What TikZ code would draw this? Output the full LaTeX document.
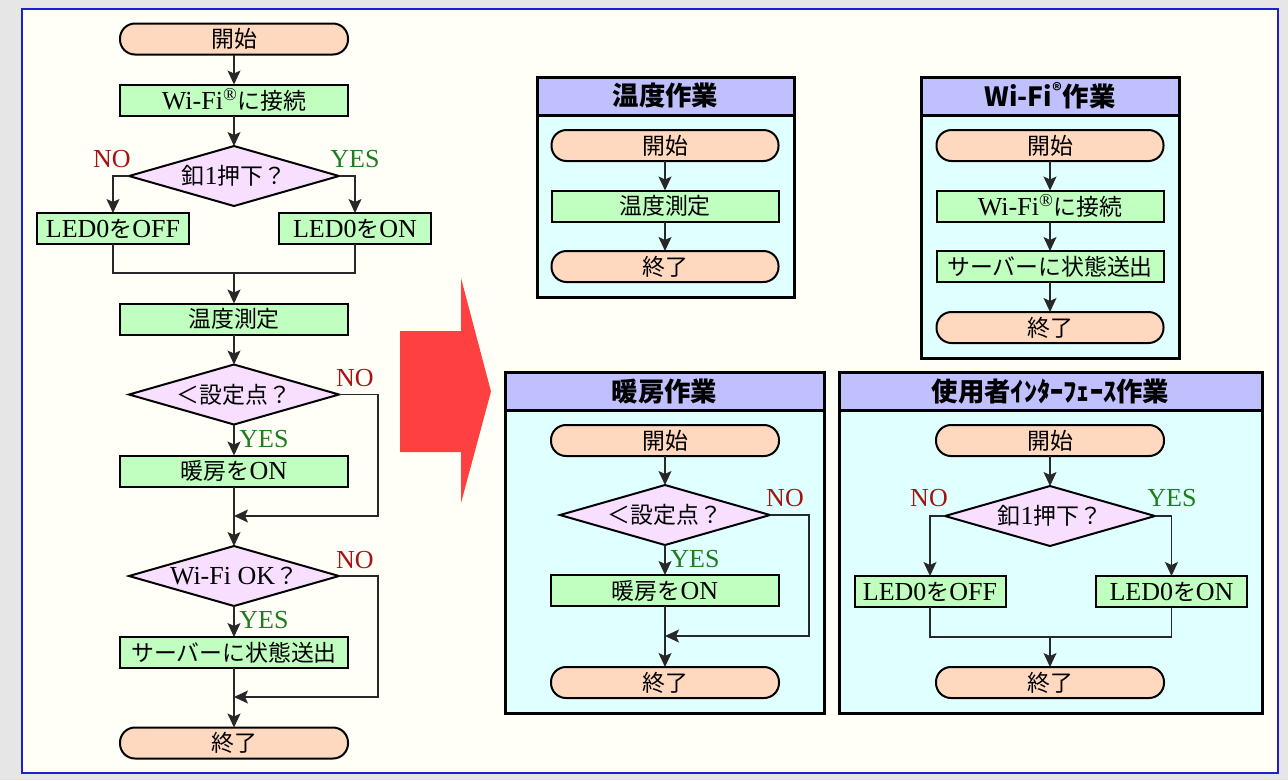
\documentclass[tikz,border=0pt]{standalone}
\usepackage{fontspec}
\setmainfont{Liberation Serif}
\newfontfamily\jp{Noto Sans CJK JP}[Scale=0.88]
\usetikzlibrary{arrows.meta,shapes.geometric}
\definecolor{bgout}{RGB}{230,230,230}
\definecolor{ivory}{RGB}{255,255,248}
\definecolor{frameblue}{RGB}{30,30,210}
\definecolor{termc}{RGB}{255,216,192}
\definecolor{procc}{RGB}{192,255,192}
\definecolor{decc}{RGB}{248,222,255}
\definecolor{headc}{RGB}{192,192,255}
\definecolor{panelc}{RGB}{224,255,255}
\definecolor{linec}{RGB}{40,40,40}
\definecolor{noc}{RGB}{165,20,20}
\definecolor{yesc}{RGB}{30,125,30}
\definecolor{arrowred}{RGB}{255,64,64}
\newcommand\Lat[1]{{\rmfamily #1}}
\begin{document}
\begin{tikzpicture}[x=1pt,y=-1pt,
 every node/.style={inner sep=0pt, outer sep=0pt, font=\jp\fontsize{26}{26}\selectfont},
 term/.style={draw, line width=2pt, fill=termc, rounded corners=15pt, minimum width=228pt, minimum height=31pt},
 proc/.style={draw, line width=2pt, fill=procc, minimum width=228pt, minimum height=31pt},
 dec/.style={diamond, draw, line width=2pt, fill=decc, minimum width=210pt, minimum height=60pt},
 arr/.style={draw=linec, line width=1.4pt, -{Stealth[length=14pt,width=13pt,inset=3pt]}},
 ln/.style={draw=linec, line width=1.4pt},
 nolab/.style={text=noc, font=\rmfamily\fontsize{26}{26}\selectfont},
 yeslab/.style={text=yesc, font=\rmfamily\fontsize{26}{26}\selectfont},
 panel/.style={draw, line width=3pt, fill=panelc},
 phead/.style={draw, line width=3pt, fill=headc, font=\jp\bfseries\fontsize{30}{30}\selectfont}
]
\useasboundingbox (0,0) rectangle (1288,780);
\fill[bgout] (0,0) rectangle (1288,780);
\draw[draw=frameblue, line width=2pt, fill=ivory] (22,9) rectangle (1278,773);

% ---------- left flowchart ----------
\node[term] (L1) at (234,39) {開始};
\node[proc] (L2) at (234,100) {\Lat{Wi-Fi\textsuperscript{®}}に接続};
\node[dec] (L3) at (234,176) {\makebox[0pt]{釦\Lat{1}押下？}};
\node[proc, minimum width=152pt] (L4) at (113,228.5) {\Lat{LED0}を\Lat{OFF}};
\node[proc, minimum width=152pt] (L5) at (355,228.5) {\Lat{LED0}を\Lat{ON}};
\coordinate (m1) at (234,273);
\node[proc] (L6) at (234,319) {温度測定};
\node[dec] (L7) at (234,394.5) {\makebox[0pt]{＜設定点？}};
\node[proc] (L8) at (234,471) {暖房を\Lat{ON}};
\coordinate (c1) at (378,516);
\coordinate (j1) at (234,516);
\node[dec] (L9) at (234,576) {\makebox[0pt]{\Lat{Wi-Fi OK}？}};
\node[proc] (L10) at (234,652.5) {サーバーに状態送出};
\coordinate (c2) at (378,697);
\coordinate (j2) at (234,697);
\node[term] (L11) at (234,743) {終了};

\draw[arr] (L1) -- (L2);
\draw[arr] (L2) -- (L3);
\draw[arr] (L3.west) -| (L4.north);
\draw[arr] (L3.east) -| (L5.north);
\draw[ln] (L4.south) |- (m1) -| (L5.south);
\draw[arr] (m1) -- (L6.north);
\draw[arr] (L6) -- (L7);
\draw[arr] (L7) -- (L8);
\draw[arr] (L7.east) -| (c1) -- (j1);
\draw[arr] (L8) -- (L9);
\draw[arr] (L9) -- (L10);
\draw[arr] (L9.east) -| (c2) -- (j2);
\draw[arr] (L10) -- (L11);

\node[nolab] (n1) at (112,159) {NO};
\node[yeslab] (y1) at (355,159) {YES};
\node[nolab] (n2) at (355,378) {NO};
\node[yeslab] (y2) at (264,439) {YES};
\node[nolab] (n3) at (355,560) {NO};
\node[yeslab] (y3) at (264,620) {YES};

% ---------- red arrow ----------
\fill[arrowred] (400,331) -- (461,331) -- (461,278) -- (491,391.5) -- (461,503) -- (461,452) -- (400,452) -- cycle;

% ---------- panel: 温度作業 ----------
\node[panel, minimum width=257pt, minimum height=220pt] (P1) at (665.5,187) {};
\node[phead, minimum width=257pt, minimum height=38pt, anchor=north] (P1h) at (P1.north) {温度作業};
\node[term, minimum width=227pt] (T1) at (665,145.5) {開始};
\node[proc, minimum width=227pt] (T2) at (665,206) {温度測定};
\node[term, minimum width=227pt] (T3) at (665,266.5) {終了};
\draw[arr] (T1) -- (T2);
\draw[arr] (T2) -- (T3);

% ---------- panel: Wi-Fi作業 ----------
\node[panel, minimum width=258pt, minimum height=281pt] (P2) at (1050,217.5) {};
\node[phead, minimum width=258pt, minimum height=38pt, anchor=north] (P2h) at (P2.north) {Wi-Fi\textsuperscript{®}作業};
\node[term, minimum width=227pt] (W1) at (1050,145.5) {開始};
\node[proc, minimum width=227pt] (W2) at (1050,206) {\Lat{Wi-Fi\textsuperscript{®}}に接続};
\node[proc, minimum width=227pt] (W3) at (1050,266.5) {サーバーに状態送出};
\node[term, minimum width=227pt] (W4) at (1050,327.5) {終了};
\draw[arr] (W1) -- (W2);
\draw[arr] (W2) -- (W3);
\draw[arr] (W3) -- (W4);

% ---------- panel: 暖房作業 ----------
\node[panel, minimum width=319pt, minimum height=341pt] (P3) at (664.5,542.5) {};
\node[phead, minimum width=319pt, minimum height=38pt, anchor=north] (P3h) at (P3.north) {暖房作業};
\node[term] (H1) at (665,440.5) {開始};
\node[dec] (H2) at (665,515) {\makebox[0pt]{＜設定点？}};
\node[proc] (H3) at (665,590.5) {暖房を\Lat{ON}};
\coordinate (hc) at (809,636);
\coordinate (hj) at (665,636);
\node[term] (H4) at (665,682.5) {終了};
\draw[arr] (H1) -- (H2);
\draw[arr] (H2) -- (H3);
\draw[arr] (H2.east) -| (hc) -- (hj);
\draw[arr] (H3) -- (H4);
\node[nolab] (n4) at (785,498) {NO};
\node[yeslab] (y4) at (695,559) {YES};

% ---------- panel: 使用者インターフェース作業 ----------
\node[panel, minimum width=423pt, minimum height=341pt] (P4) at (1050.5,542.5) {};
\node[phead, minimum width=423pt, minimum height=38pt, anchor=north] (P4h) at (P4.north) {使用者ｲﾝﾀｰﾌｪｰｽ作業};
\node[term] (U1) at (1050,440.5) {開始};
\node[dec] (U2) at (1050,516) {\makebox[0pt]{釦\Lat{1}押下？}};
\node[proc, minimum width=151pt] (U3) at (930,591.5) {\Lat{LED0}を\Lat{OFF}};
\node[proc, minimum width=151pt] (U4) at (1171.5,591.5) {\Lat{LED0}を\Lat{ON}};
\coordinate (um) at (1050,637);
\node[term] (U5) at (1050,682.5) {終了};
\draw[arr] (U1) -- (U2);
\draw[arr] (U2.west) -| (U3.north);
\draw[arr] (U2.east) -| (U4.north);
\draw[ln] (U3.south) |- (um) -| (U4.south);
\draw[arr] (um) -- (U5.north);
\node[nolab] (n5) at (929,498) {NO};
\node[yeslab] (y5) at (1172,498) {YES};
\end{tikzpicture}
\end{document}
